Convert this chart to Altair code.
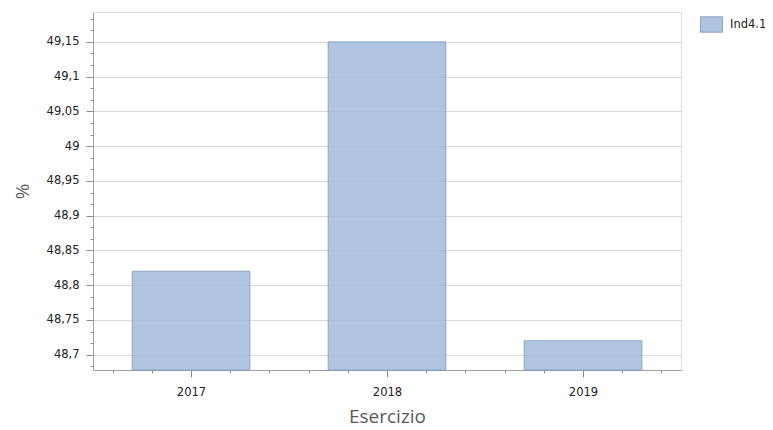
import altair as alt
import pandas as pd

years = [2017, 2018, 2019]
values = [48.82, 49.15, 48.72]
series = ["Ind4.1", "Ind4.1", "Ind4.1"]

y_min, y_max = 48.678, 49.193
x_min, x_max = 2016.5, 2019.5

y_ticks = [round(48.7 + (i - 1) / 60, 6) for i in range(31)]
x_ticks = [round(2016.6 + i * 0.2, 4) for i in range(15)]

df = pd.DataFrame({"Esercizio": years, "valore": values, "serie": series})

label_font = "DejaVu Sans"
title_font = "Open Sans"

major_y = "abs(round(datum.value*20) - datum.value*20) < 0.001"
major_x = "abs(round(datum.value) - datum.value) < 0.001"

bars = alt.Chart(df).transform_calculate(
    x0="datum.Esercizio - 0.3", x1="datum.Esercizio + 0.3"
).mark_bar(
    fill="#a6bede", stroke="#7f98ba", strokeWidth=1, opacity=0.88
).encode(
    x=alt.X("x0:Q",
            scale=alt.Scale(domain=[x_min, x_max], nice=False, zero=False),
            axis=alt.Axis(
                title="Esercizio", values=x_ticks, grid=False,
                labelExpr=f"{major_x} ? toString(round(datum.value)) : ''",
                tickSize={"condition": {"test": major_x, "value": 7}, "value": 3},
                tickColor="#8c8c8c", domainColor="#a0a0a0",
                labelFont=label_font, labelFontSize=11.5, labelColor="#222222",
                labelPadding=9, labelFlush=False, labelOverlap=False,
                titleFont=title_font, titleFontSize=19, titleFontWeight="normal",
                titleColor="#5a5a5a", titlePadding=10,
            )),
    x2="x1:Q",
    y=alt.Y("valore:Q",
            scale=alt.Scale(domain=[y_min, y_max], nice=False, zero=False),
            axis=alt.Axis(
                title="%", values=y_ticks,
                labelExpr=f"{major_y} ? replace(toString(round(datum.value*100)/100), '.', ',') : ''",
                tickSize={"condition": {"test": major_y, "value": 7}, "value": 3},
                gridOpacity={"condition": {"test": major_y, "value": 1}, "value": 0},
                gridColor="#d9d9d9", tickColor="#8c8c8c", domainColor="#a0a0a0",
                labelFont=label_font, labelFontSize=11.5, labelColor="#222222",
                labelPadding=7, labelOverlap=False,
                titleFont=title_font, titleFontSize=19, titleFontWeight="normal",
                titleColor="#5a5a5a", titlePadding=14,
            )),
    y2=alt.Y2Datum(y_min),
    color=alt.Color("serie:N",
                    scale=alt.Scale(range=["#a6bede"]),
                    legend=alt.Legend(
                        title=None, orient="none", legendX=607, legendY=1,
                        symbolType="M-1,-0.7H1V0.7H-1Z", symbolSize=484,
                        symbolStrokeColor="#7f98ba", symbolStrokeWidth=1,
                        symbolFillColor="#a6bede", symbolOpacity=0.9,
                        labelFont=label_font, labelFontSize=11.5,
                        labelColor="#222222", labelOffset=7,
                    )),
)

chart = bars.properties(
    width=588, height=358,
    autosize=alt.AutoSizeParams(type="none"),
    padding={"left": 85, "top": 4, "right": 84, "bottom": 60},
).configure_view(stroke="#9a9a9a", strokeWidth=1).configure(background="white")

chart.save("out.html", embed_options={"renderer": "svg", "actions": False})
